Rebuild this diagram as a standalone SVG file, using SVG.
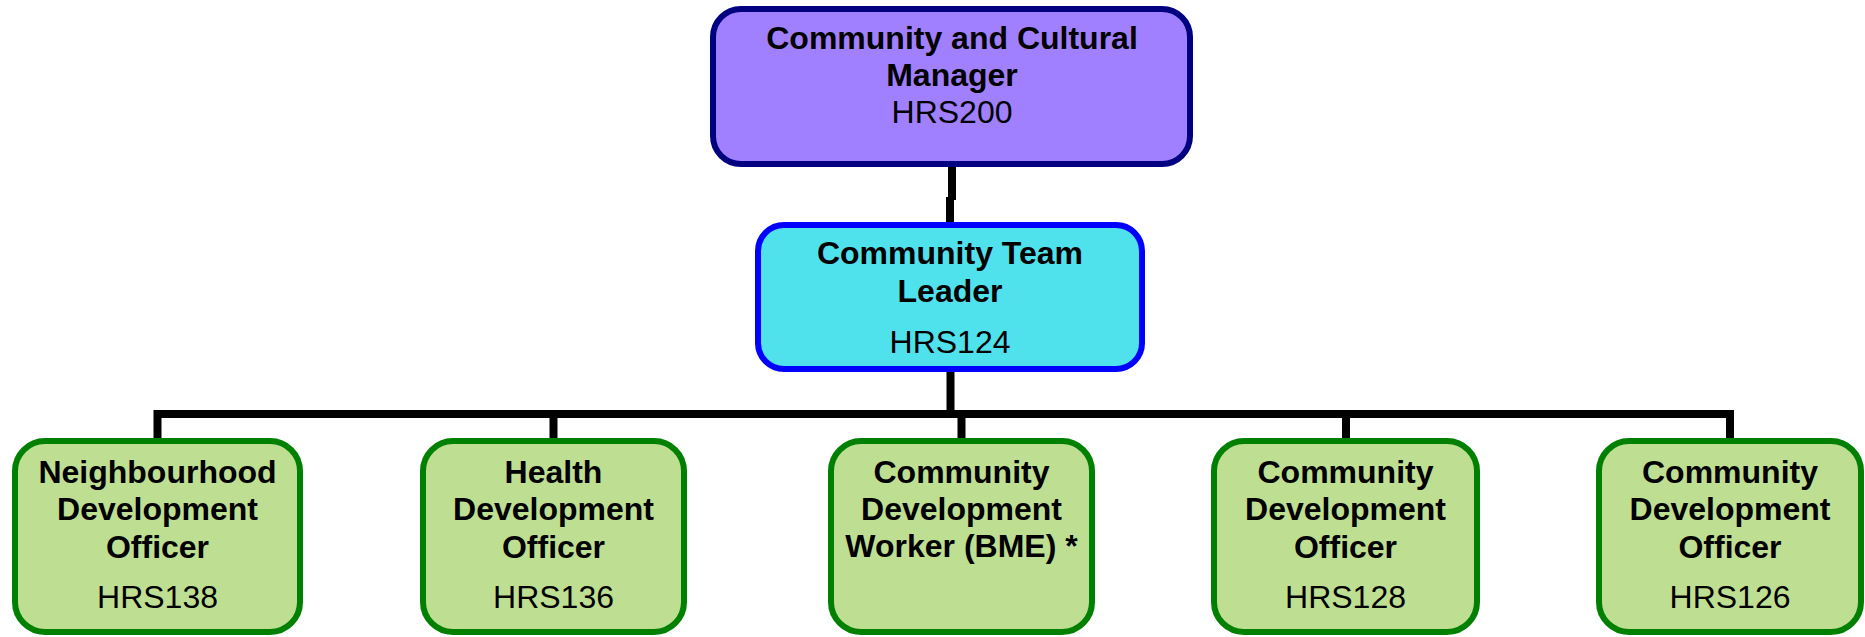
<svg xmlns="http://www.w3.org/2000/svg" width="1865" height="637" viewBox="0 0 1865 637">
<style>
  text { font-family: "Liberation Sans", Arial, sans-serif; font-size: 32px; fill: #000; text-anchor: middle; }
  .b { font-weight: bold; }
  .top { fill: #A080FF; stroke: #000080; stroke-width: 6; }
  .mid { fill: #50E2EC; stroke: #0000FF; stroke-width: 6; }
  .leaf { fill: #BEDF92; stroke: #008000; stroke-width: 6; }
  .conn { fill: none; stroke: #000; stroke-width: 8; stroke-linejoin: miter; }
</style>
<rect width="1865" height="637" fill="#fff"/>
<g id="connectors">
  <path class="conn" d="M952 164 V200"/>
  <path class="conn" d="M950 197 V225"/>
  <path class="conn" d="M950.5 369 V414"/>
  <path class="conn" d="M157.5 441 V414 H1730 V441"/>
  <path class="conn" d="M553.5 414 V441"/>
  <path class="conn" d="M961.5 414 V441"/>
  <path class="conn" d="M1346 414 V441"/>
</g>
<g id="node-manager">
  <rect class="top" x="713" y="9" width="477" height="155" rx="28"/>
  <text class="b" x="952" y="49">Community and Cultural</text>
  <text class="b" x="952" y="86">Manager</text>
  <text x="952" y="123">HRS200</text>
</g>
<g id="node-teamleader">
  <rect class="mid" x="758" y="225" width="384" height="144" rx="26"/>
  <text class="b" x="950" y="264">Community Team</text>
  <text class="b" x="950" y="302">Leader</text>
  <text x="950" y="353">HRS124</text>
</g>
<g id="node-hrs138">
  <rect class="leaf" x="15" y="441" width="285" height="191" rx="30"/>
  <text class="b" x="157.5" y="483">Neighbourhood</text>
  <text class="b" x="157.5" y="520">Development</text>
  <text class="b" x="157.5" y="558">Officer</text>
  <text x="157.5" y="608">HRS138</text>
</g>
<g id="node-hrs136">
  <rect class="leaf" x="423" y="441" width="261" height="191" rx="30"/>
  <text class="b" x="553.5" y="483">Health</text>
  <text class="b" x="553.5" y="520">Development</text>
  <text class="b" x="553.5" y="558">Officer</text>
  <text x="553.5" y="608">HRS136</text>
</g>
<g id="node-bme">
  <rect class="leaf" x="831" y="441" width="261" height="191" rx="30"/>
  <text class="b" x="961.5" y="483">Community</text>
  <text class="b" x="961.5" y="520">Development</text>
  <text class="b" x="961.5" y="557">Worker (BME) *</text>
</g>
<g id="node-hrs128">
  <rect class="leaf" x="1214" y="441" width="263" height="191" rx="30"/>
  <text class="b" x="1345.5" y="483">Community</text>
  <text class="b" x="1345.5" y="520">Development</text>
  <text class="b" x="1345.5" y="558">Officer</text>
  <text x="1345.5" y="608">HRS128</text>
</g>
<g id="node-hrs126">
  <rect class="leaf" x="1599" y="441" width="262" height="191" rx="30"/>
  <text class="b" x="1730" y="483">Community</text>
  <text class="b" x="1730" y="520">Development</text>
  <text class="b" x="1730" y="558">Officer</text>
  <text x="1730" y="608">HRS126</text>
</g>
</svg>
